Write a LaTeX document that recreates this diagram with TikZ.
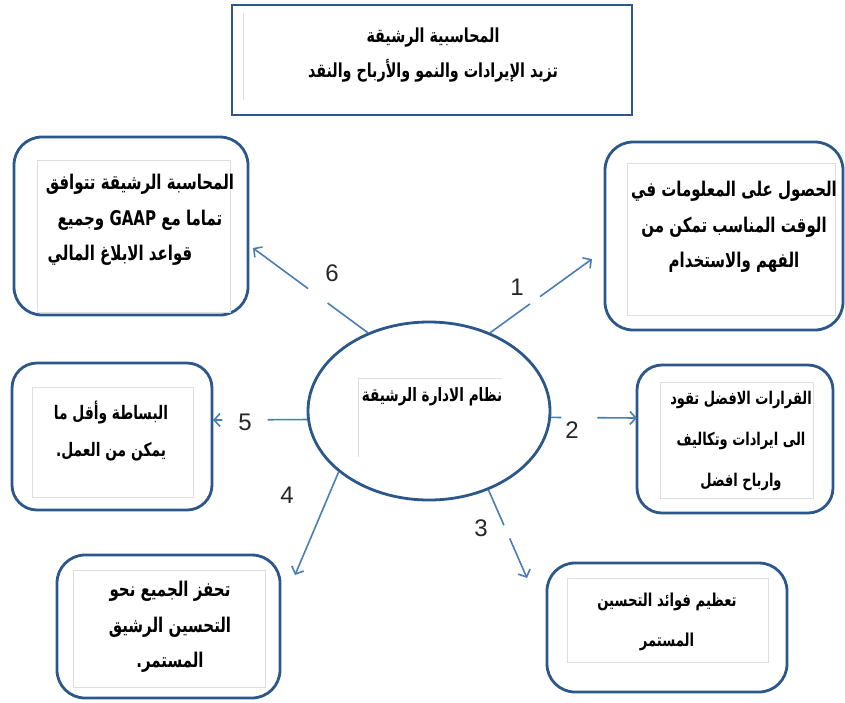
\documentclass[tikz,border=0pt]{standalone}
\usepackage{fontspec}
\setmainfont{Liberation Sans}
\newfontfamily\arabicfont[Script=Arabic]{DejaVu Sans}
\TeXXeTstate=1
\usetikzlibrary{arrows.meta,calc,shapes.geometric}
\definecolor{boxblue}{HTML}{2B578A}
\definecolor{arrblue}{HTML}{4A7DB5}
\newcommand{\RL}[1]{\scalebox{1}[1.35]{\beginR#1\endR}}
\tikzset{
  rbox/.style={draw=boxblue, line width=2.8pt, rounded corners=28pt, fill=white, inner sep=0pt},
  conn/.style={draw=arrblue, line width=1.6pt},
  tipped/.style={-{Straight Barb[length=6pt,width=13pt]}},
  num/.style={font=\fontsize{24}{24}\selectfont, text=black!85, inner sep=0pt},
  atext/.style={font=\arabicfont\bfseries\fontsize{15}{35.5}\selectfont, align=center, inner sep=0pt},
  faint/.style={draw=black!13, line width=1pt}
}
\begin{document}
\begin{tikzpicture}[x=1pt,y=-1pt]
\useasboundingbox (0,0) rectangle (845,702);
% top box
\node[draw=boxblue, line width=2.8pt, minimum width=400pt, minimum height=110pt, inner sep=0pt] (top) at (432,60) {};
\draw[faint] (243,13) -- (243,100);
\node[atext, font=\arabicfont\bfseries\fontsize{14.3}{35}\selectfont] (toptext) at (433,55.5) {\RL{المحاسبية الرشيقة}\\\RL{تزيد الإيرادات والنمو والأرباح والنقد}};
% boxes
\node[rbox, minimum width=234pt, minimum height=178pt] (b6) at (131,226) {};
\node[rbox, minimum width=238pt, minimum height=188pt] (b1) at (724,236) {};
\node[rbox, minimum width=196pt, minimum height=148pt, rounded corners=25pt] (b2) at (735,439) {};
\node[rbox, minimum width=200pt, minimum height=147pt, rounded corners=25pt] (b5) at (112,436.5) {};
\node[rbox, minimum width=223pt, minimum height=143pt] (b4) at (168.5,626.5) {};
\node[rbox, minimum width=240pt, minimum height=129pt] (b3) at (667,627.5) {};
% faint inner frames
\draw[faint] (37,160) rectangle (230,312);
\draw[faint] (627,163) rectangle (835,315);
\draw[faint] (660,382) rectangle (813,498);
\draw[faint] (32,387) rectangle (193,497);
\draw[faint] (73,570) rectangle (265,687);
\draw[faint] (567,578) rectangle (768,662);
% ellipse
\node[ellipse, draw=boxblue, line width=2.8pt, minimum width=242pt, minimum height=178pt, inner sep=0pt] (ell) at (429,411) {};
\draw[faint] (358,457) -- (358,378) -- (502,378);
\node[atext, font=\arabicfont\bfseries\fontsize{13.6}{20}\selectfont] (ctext) at (432,397) {\RL{نظام الادارة الرشيقة}};
% texts
\node[atext] (t6) at (140,220) {\RL{المحاسبة الرشيقة تتوافق}\\\RL{تماما مع \beginL GAAP\endL{} وجميع}\\\RL{قواعد الابلاغ المالي}\hspace*{40pt}};
\node[atext] (t1) at (734,227) {\RL{الحصول على المعلومات في}\\\RL{الوقت المناسب تمكن من}\\\RL{الفهم والاستخدام}};
\node[atext, font=\arabicfont\bfseries\fontsize{13}{41}\selectfont] (t2) at (741,441) {\RL{القرارات الافضل تقود}\\\RL{الى ايرادات وتكاليف}\\\RL{وارباح افضل}};
\node[atext, font=\arabicfont\bfseries\fontsize{13.8}{37}\selectfont] (t5) at (111,431.5) {\RL{البساطة وأقل ما}\\\RL{يمكن من العمل\kern0pt.}};
\node[atext] (t4) at (170,627) {\RL{تحفز الجميع نحو}\\\RL{التحسين الرشيق}\\\RL{المستمر\kern0pt.}};
\node[atext, font=\arabicfont\bfseries\fontsize{13.2}{40}\selectfont] (t3) at (667,622) {\RL{تعظيم فوائد التحسين}\\\RL{المستمر}};
% connector end points
\coordinate (e1) at (592,259);
\coordinate (e2) at (637,418);
\coordinate (e3) at (527,578);
\coordinate (e4) at (295,575);
\coordinate (e5) at (213,420);
\coordinate (e6) at (253,248);
% connectors
\draw[conn] (ell.52) -- ($(ell.52)!0.39!(e1)$);
\draw[conn,tipped] ($(ell.52)!0.49!(e1)$) -- (e1);
\draw[conn] (ell.-3) -- ($(ell.-3)!0.12!(e2)$);
\draw[conn,tipped] ($(ell.-3)!0.54!(e2)$) -- (e2);
\draw[conn] (ell.-53) -- ($(ell.-53)!0.4!(e3)$);
\draw[conn,tipped] ($(ell.-53)!0.55!(e3)$) -- (e3);
\draw[conn,tipped] (ell.-146) -- (e4);
\draw[conn] (ell.184) -- ($(ell.184)!0.42!(e5)$);
\draw[conn,tipped] ($(ell.184)!0.9!(e5)$) -- (e5);
\draw[conn] (ell.128) -- ($(ell.128)!0.35!(e6)$);
\draw[conn,tipped] ($(ell.128)!0.52!(e6)$) -- (e6);
% numbers
\node[num] (n1) at (517,287) {1};
\node[num] (n2) at (572,430) {2};
\node[num] (n3) at (481,528) {3};
\node[num] (n4) at (287,495) {4};
\node[num] (n5) at (245,422) {5};
\node[num] (n6) at (332,273) {6};
\end{tikzpicture}
\end{document}
